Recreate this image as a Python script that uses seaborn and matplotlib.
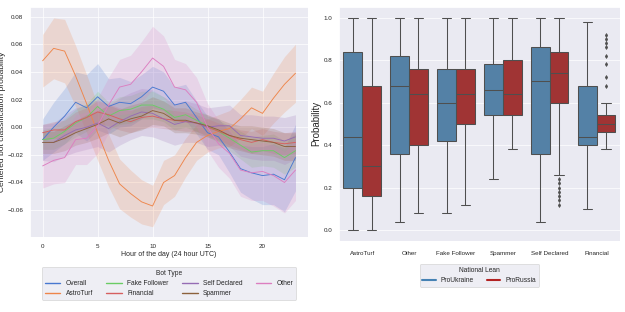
import matplotlib
matplotlib.use("Agg")
import numpy as np
import pandas as pd
import matplotlib.pyplot as plt
from matplotlib.lines import Line2D
import seaborn as sns

# LEFT PANEL DATA: centered probability per hour (mean and CI half width)
hours = list(range(24))
bot_types = ["Overall", "AstroTurf", "Fake Follower", "Financial", "Self Declared", "Spammer", "Other"]

overall = [-0.009, 0.000, 0.008, 0.018, 0.014, 0.022, 0.015, 0.018, 0.017, 0.022, 0.029, 0.026,
           0.016, 0.018, 0.007, -0.004, -0.007, -0.018, -0.030, -0.033, -0.035, -0.034, -0.038, -0.022]
astroturf = [0.048, 0.057, 0.055, 0.037, 0.017, -0.004, -0.024, -0.041, -0.048, -0.054, -0.057, -0.040,
             -0.035, -0.022, -0.011, -0.006, -0.003, -0.001, 0.006, 0.014, 0.010, 0.021, 0.031, 0.039]
fake_follower = [-0.009, -0.008, -0.003, 0.003, 0.007, 0.015, 0.008, 0.012, 0.013, 0.016, 0.016, 0.013,
                 0.007, 0.009, 0.005, 0.001, -0.003, -0.008, -0.013, -0.018, -0.017, -0.017, -0.022, -0.017]
financial = [-0.004, -0.002, -0.002, 0.004, 0.007, 0.011, 0.009, 0.006, 0.004, 0.007, 0.008, 0.006,
             0.005, 0.004, 0.003, 0.000, -0.003, -0.006, -0.009, -0.011, -0.009, -0.011, -0.012, -0.011]
self_declared = [-0.011, -0.011, -0.006, -0.002, 0.000, 0.003, -0.001, 0.004, 0.008, 0.011, 0.010, 0.006,
                 0.002, 0.004, 0.003, 0.000, 0.001, 0.001, -0.006, -0.007, -0.008, -0.008, -0.010, -0.007]
spammer = [-0.011, -0.011, -0.008, -0.004, -0.001, 0.002, 0.006, 0.003, 0.006, 0.008, 0.012, 0.010,
           0.005, 0.005, 0.003, 0.001, -0.002, -0.006, -0.008, -0.009, -0.010, -0.011, -0.014, -0.014]
other = [-0.028, -0.024, -0.022, -0.009, -0.008, 0.001, 0.016, 0.029, 0.031, 0.040, 0.050, 0.044,
         0.029, 0.027, 0.018, 0.000, -0.012, -0.019, -0.031, -0.033, -0.032, -0.035, -0.040, -0.031]

ci_overall = [0.015, 0.018, 0.020, 0.022, 0.024, 0.024, 0.020, 0.018, 0.016, 0.016, 0.015, 0.014,
              0.013, 0.013, 0.012, 0.012, 0.013, 0.015, 0.017, 0.019, 0.021, 0.022, 0.023, 0.024]
ci_astroturf = [0.019, 0.022, 0.023, 0.022, 0.021, 0.020, 0.019, 0.018, 0.017, 0.016, 0.015, 0.016,
                0.015, 0.014, 0.013, 0.012, 0.012, 0.013, 0.014, 0.015, 0.016, 0.018, 0.020, 0.021]
ci_fake = [0.007, 0.008, 0.009, 0.010, 0.010, 0.011, 0.010, 0.010, 0.010, 0.010, 0.010, 0.009,
           0.009, 0.009, 0.008, 0.008, 0.008, 0.009, 0.010, 0.011, 0.011, 0.012, 0.012, 0.012]
ci_financial = [0.006, 0.006, 0.007, 0.007, 0.007, 0.008, 0.008, 0.008, 0.008, 0.008, 0.008, 0.007,
                0.007, 0.007, 0.006, 0.006, 0.006, 0.007, 0.007, 0.008, 0.008, 0.008, 0.008, 0.008]
ci_self = [0.013, 0.014, 0.015, 0.016, 0.016, 0.017, 0.017, 0.017, 0.017, 0.017, 0.017, 0.016,
           0.015, 0.015, 0.014, 0.014, 0.014, 0.015, 0.015, 0.016, 0.016, 0.016, 0.017, 0.016]
ci_spammer = [0.008, 0.008, 0.009, 0.009, 0.010, 0.010, 0.010, 0.010, 0.010, 0.010, 0.010, 0.009,
              0.009, 0.009, 0.008, 0.008, 0.008, 0.009, 0.009, 0.010, 0.010, 0.010, 0.010, 0.010]
ci_other = [0.016, 0.017, 0.018, 0.018, 0.019, 0.020, 0.020, 0.020, 0.021, 0.022, 0.023, 0.022,
            0.020, 0.019, 0.018, 0.017, 0.017, 0.018, 0.019, 0.020, 0.021, 0.022, 0.022, 0.022]

# RIGHT PANEL DATA: box summaries per category and national lean
categories = ["AstroTurf", "Other", "Fake Follower", "Spammer", "Self Declared", "Financial"]
leans = ["ProUkraine", "ProRussia"]
ukr_lo = [0.00, 0.04, 0.08, 0.24, 0.04, 0.10]
ukr_q1 = [0.20, 0.36, 0.42, 0.54, 0.36, 0.40]
ukr_med = [0.44, 0.68, 0.60, 0.66, 0.70, 0.44]
ukr_q3 = [0.84, 0.82, 0.76, 0.78, 0.86, 0.68]
ukr_hi = [1.00, 1.00, 1.00, 1.00, 1.00, 0.98]
rus_lo = [0.00, 0.08, 0.12, 0.38, 0.26, 0.38]
rus_q1 = [0.16, 0.40, 0.50, 0.54, 0.60, 0.46]
rus_med = [0.30, 0.64, 0.64, 0.64, 0.74, 0.50]
rus_q3 = [0.68, 0.76, 0.76, 0.80, 0.84, 0.54]
rus_hi = [1.00, 1.00, 1.00, 1.00, 1.00, 0.60]
rus_fliers = [[], [], [], [], [0.24, 0.22, 0.20, 0.18, 0.16, 0.14, 0.12],
              [0.68, 0.72, 0.78, 0.82, 0.86, 0.88, 0.90, 0.92]]

sns.set_theme(style="darkgrid")
plt.rcParams["font.family"] = ["Liberation Sans", "DejaVu Sans"]

fig = plt.figure(figsize=(12.5, 6.24), dpi=50)
ax1 = fig.add_axes([0.048, 0.240, 0.445, 0.738])
ax2 = fig.add_axes([0.542, 0.228, 0.450, 0.750])

# left: line plot with bands
means = [overall, astroturf, fake_follower, financial, self_declared, spammer, other]
cis = [ci_overall, ci_astroturf, ci_fake, ci_financial, ci_self, ci_spammer, ci_other]
df = pd.DataFrame({
    "hour": hours * len(bot_types),
    "prob": np.concatenate(means),
    "Bot Type": np.repeat(bot_types, len(hours)),
})
colors = sns.color_palette("muted", len(bot_types))
sns.lineplot(data=df, x="hour", y="prob", hue="Bot Type", hue_order=bot_types,
             palette=colors, linewidth=1.3, errorbar=None, legend=False, ax=ax1)
for m, c, col in zip(means, cis, colors):
    m = np.array(m); c = np.array(c)
    ax1.fill_between(hours, m - c, m + c, color=col, alpha=0.2, linewidth=0)
ax1.set_ylim(-0.0795, 0.087)
ax1.set_xlabel("Hour of the day (24 hour UTC)", fontsize=10)
ax1.set_ylabel("Centered bot classification probability", fontsize=12, labelpad=2)
ax1.tick_params(labelsize=9)
bot_handles = [Line2D([0], [0], color=col, lw=2) for col in colors]
ax1.legend(bot_handles, bot_types, loc="upper center", bbox_to_anchor=(0.5, -0.115), ncol=4,
           title="Bot Type", fontsize=9.5, title_fontsize=9.5, handlelength=2.4)

# right: boxplots
box_colors = [sns.desaturate("steelblue", 0.75), sns.desaturate("firebrick", 0.75)]
line_col = "#4f4f4f"
stats = []
positions = []
face = []
for i in range(len(categories)):
    stats.append(dict(whislo=ukr_lo[i], q1=ukr_q1[i], med=ukr_med[i], q3=ukr_q3[i],
                      whishi=ukr_hi[i], fliers=[]))
    positions.append(i - 0.2)
    face.append(box_colors[0])
    stats.append(dict(whislo=rus_lo[i], q1=rus_q1[i], med=rus_med[i], q3=rus_q3[i],
                      whishi=rus_hi[i], fliers=rus_fliers[i]))
    positions.append(i + 0.2)
    face.append(box_colors[1])
bp = ax2.bxp(stats, positions=positions, widths=0.4, patch_artist=True, showfliers=True,
             boxprops=dict(edgecolor=line_col, linewidth=1.5),
             medianprops=dict(color=line_col, linewidth=1.5),
             whiskerprops=dict(color=line_col, linewidth=1.5),
             capprops=dict(color=line_col, linewidth=1.5),
             flierprops=dict(marker="d", markerfacecolor=line_col, markeredgecolor=line_col,
                             markersize=4, linestyle="none"))
for patch, fc in zip(bp["boxes"], face):
    patch.set_facecolor(fc)
for cap in bp["caps"]:
    x0, x1 = cap.get_xdata()
    mid = (x0 + x1) / 2
    cap.set_xdata([mid - 0.1, mid + 0.1])
ax2.set_xticks(range(len(categories)))
ax2.set_xticklabels(categories)
ax2.set_xlim(-0.5, len(categories) - 0.5)
ax2.set_ylim(-0.05, 1.05)
ax2.xaxis.grid(False)
ax2.set_ylabel("Probability", fontsize=14, labelpad=3)
ax2.tick_params(labelsize=9)
ax2.tick_params(axis="x", pad=8)
handles = [Line2D([0], [0], color="steelblue", lw=3), Line2D([0], [0], color="firebrick", lw=3)]
ax2.legend(handles, leans, title="National Lean", ncol=2, loc="upper center",
           bbox_to_anchor=(0.5, -0.085), fontsize=9.5, title_fontsize=9.5)

plt.savefig("out.png", dpi=50)
